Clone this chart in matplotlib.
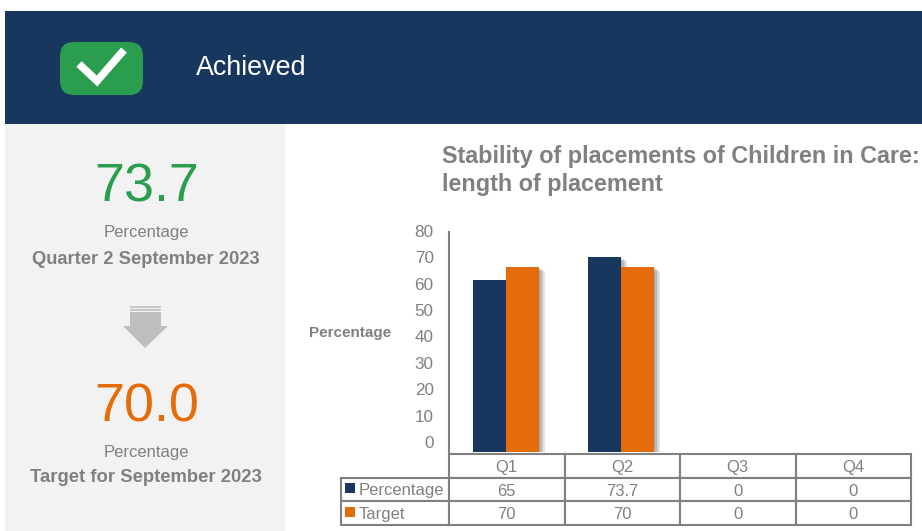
import matplotlib
matplotlib.use('Agg')
import matplotlib.pyplot as plt
import matplotlib.patheffects as pe
from matplotlib.patches import FancyBboxPatch, Polygon, Rectangle
from matplotlib.transforms import ScaledTranslation

plt.rcParams['font.family'] = ['Liberation Sans', 'DejaVu Sans']

# datos
trimestres = ['Q1', 'Q2', 'Q3', 'Q4']
percentage = [65, 73.7, 0, 0]
target = [70, 70, 0, 0]
percentage_txt = ['65', '73.7', '0', '0']
target_txt = ['70', '70', '0', '0']
yticks = [0, 10, 20, 30, 40, 50, 60, 70, 80]

NAVY = '#17375E'
ORANGE = '#E46C0A'
GREEN = '#2A9D4E'
GRIS = '#808080'
W, H = 922, 531

fig = plt.figure(figsize=(W / 100, H / 100), dpi=100, facecolor='white')

# capa de fondo en pixeles
bg = fig.add_axes([0, 0, 1, 1])
bg.set_xlim(0, W)
bg.set_ylim(H, 0)
bg.axis('off')

bg.add_patch(Rectangle((5, 11), W - 5, 113, color=NAVY, lw=0))
bg.add_patch(Rectangle((5, 124), 280, H - 124, color='#F2F2F2', lw=0))

# icono
bg.add_patch(FancyBboxPatch((72, 54), 59, 29, boxstyle='round,pad=12,rounding_size=14', lw=0, color=GREEN))
bg.plot([79, 97, 124], [64, 81, 50], color='white', lw=5.5, solid_joinstyle='miter', solid_capstyle='butt')
bg.text(196, 68, 'Achieved', color='white', fontsize=19.4, va='center', ha='left')

# panel izquierdo
bg.text(146.5, 187, '73.7', color=GREEN, fontsize=38.8, ha='center', va='center')
bg.text(146, 233, 'Percentage', color=GRIS, fontsize=12, ha='center', va='center')
bg.text(146, 259, 'Quarter 2 September 2023', color=GRIS, fontsize=13.2, fontweight='bold', ha='center', va='center')
bg.add_patch(Polygon([(130, 312), (161, 312), (161, 326), (168, 326), (145, 348), (123, 326), (130, 326)],
                     color='#BFBFBF', lw=0))
for y0 in [306, 309]:
    bg.add_patch(Rectangle((130, y0), 31, 2, color='#C8C8C8', lw=0))
bg.text(146.5, 407, '70.0', color=ORANGE, fontsize=38.8, ha='center', va='center')
bg.text(146, 452, 'Percentage', color=GRIS, fontsize=12, ha='center', va='center')
bg.text(146, 478, 'Target for September 2023', color=GRIS, fontsize=13.3, fontweight='bold', ha='center', va='center')

# titulo
bg.text(442, 157, 'Stability of placements of Children in Care:', color=GRIS, fontsize=16.8, fontweight='bold',
        ha='left', va='center')
bg.text(442, 184, 'length of placement', color=GRIS, fontsize=16.8, fontweight='bold', ha='left', va='center')
bg.text(350, 333, 'Percentage', color=GRIS, fontsize=11, fontweight='bold', ha='center', va='center')

# grafico
ax = fig.add_axes([449 / W, 1 - 452 / H, 463 / W, 220 / H])
ax.patch.set_alpha(0)
x = range(len(trimestres))
ancho = 0.287
sombra = [pe.SimplePatchShadow(offset=(k, -0.7 * k), shadow_rgbFace='#555555', alpha=0.16) for k in (1, 2, 3, 4)]
sombra.append(pe.Normal())
b1 = ax.bar([i - ancho / 2 for i in x], percentage, ancho, color=NAVY, lw=0)
b2 = ax.bar([i + ancho / 2 for i in x], target, ancho, color=ORANGE, lw=0)
for b, v in zip(list(b1) + list(b2), percentage + target):
    if v > 0:
        b.set_path_effects(sombra)

ax.set_xlim(-0.496, 3.53)
ax.set_ylim(0, 83.3)
ax.set_yticks(yticks)
ax.tick_params(axis='y', length=0, labelsize=12.3, labelcolor=GRIS, pad=11)
ax.set_xticks([])
# las etiquetas del eje van algo por encima de su valor, como en el original
desplaza = ScaledTranslation(0, 10 / 100, fig.dpi_scale_trans)
for lab in ax.get_yticklabels():
    lab.set_transform(lab.get_transform() + desplaza)
for s in ['top', 'right', 'bottom']:
    ax.spines[s].set_visible(False)
ax.spines['left'].set_color(GRIS)
ax.spines['left'].set_linewidth(1.5)

# tabla de datos
filas = [[''] + trimestres,
         ['Percentage'] + percentage_txt,
         ['Target'] + target_txt]
tabla = ax.table(cellText=filas, cellLoc='center',
                 colWidths=[108 / 463] + [115.5 / 463] * 4,
                 bbox=[(341 - 449) / 463, (452 - 525) / 220, (911 - 341) / 463, 71 / 220])
tabla.auto_set_font_size(False)
tabla.set_fontsize(12)
for (r, c), celda in tabla.get_celld().items():
    celda.set_edgecolor(GRIS)
    celda.set_linewidth(1.5)
    celda.get_text().set_color(GRIS)
    celda.get_text().set_va('center_baseline')
    if r == 0 and c == 0:
        celda.set_visible(False)
    if r > 0 and c == 0:
        celda.get_text().set_ha('left')
        celda.PAD = 0.165

# muestras de color de la leyenda, encima de la tabla
ax.add_patch(Rectangle((344.5, 482.5), 10.5, 10, color=NAVY, lw=0, transform=bg.transData, clip_on=False, zorder=20))
ax.add_patch(Rectangle((344.5, 506.5), 10.5, 10, color=ORANGE, lw=0, transform=bg.transData, clip_on=False, zorder=20))

fig.savefig('out.png', dpi=100)
